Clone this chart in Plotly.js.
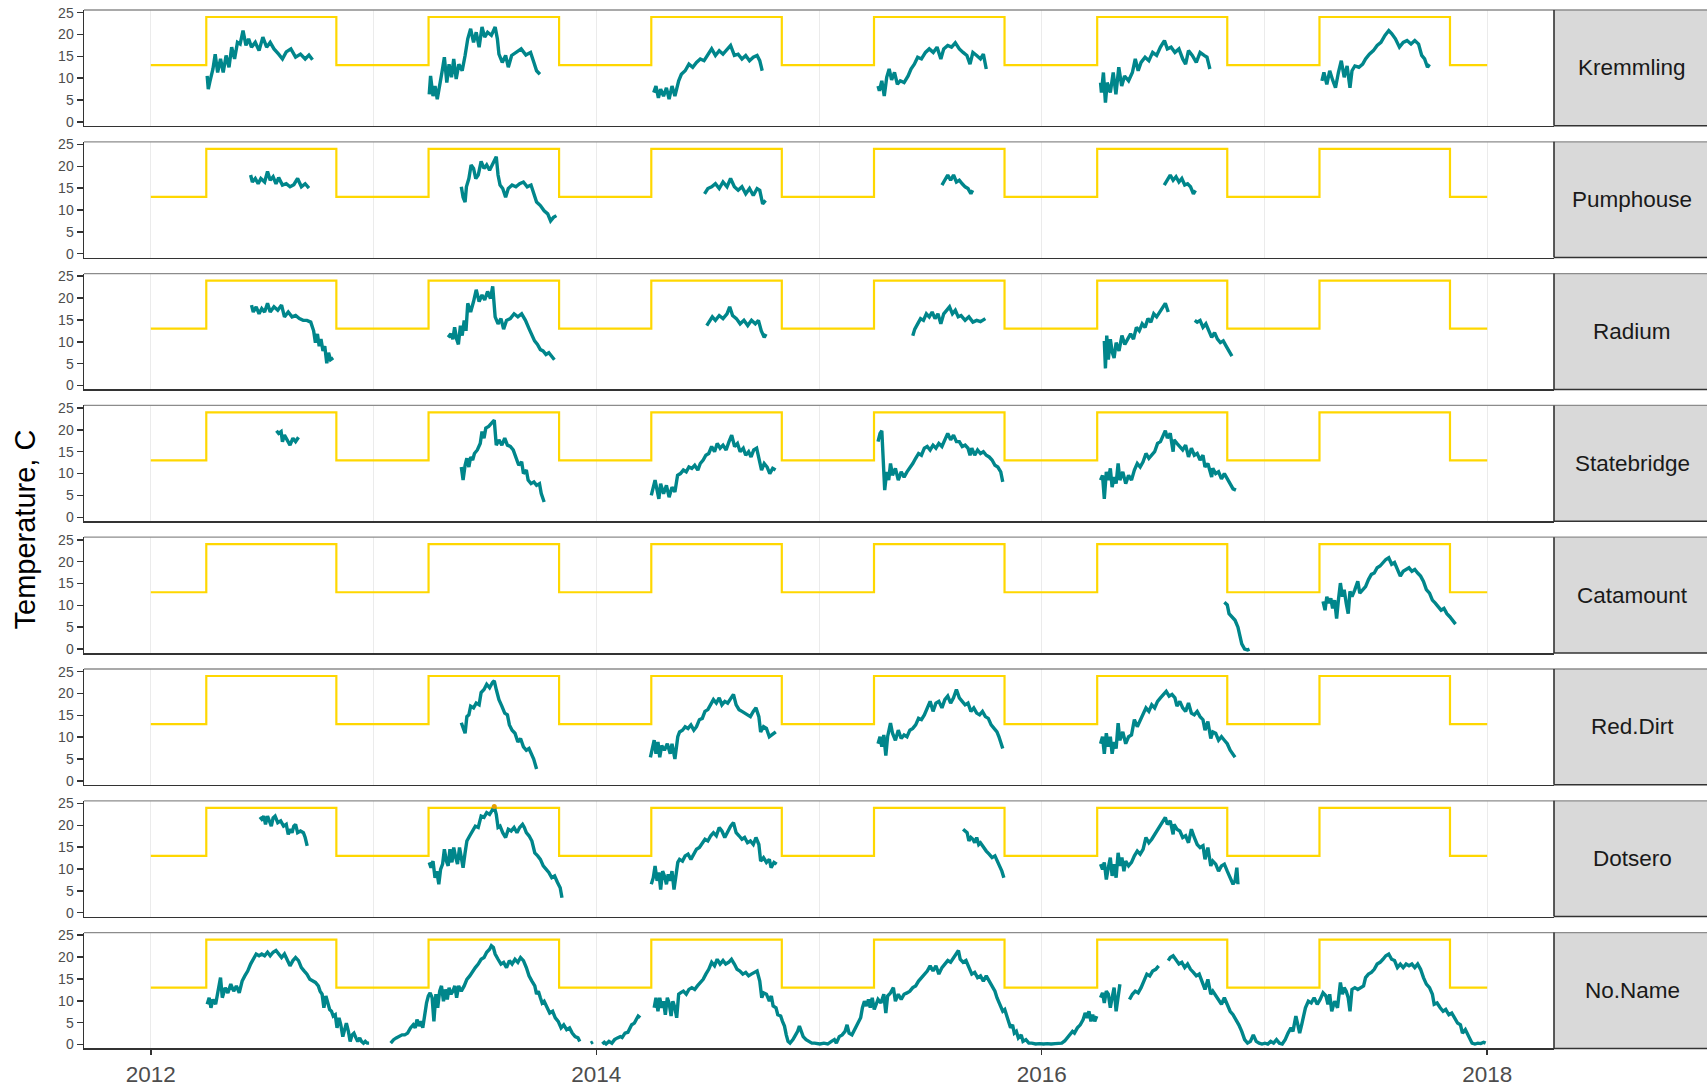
<!DOCTYPE html>
<html>
<head>
<meta charset="utf-8">
<script src="https://cdn.plot.ly/plotly-3.0.1.min.js"></script>
<style>html,body{margin:0;padding:0;background:#fff;}#chart{width:1707px;height:1088px;}</style>
</head>
<body>
<div id="chart"></div>
<script>
// ---------------- DATA ----------------
const stations = ["Kremmling","Pumphouse","Radium","Statebridge","Catamount","Red.Dirt","Dotsero","No.Name"];
const xTickVals = [2012, 2014, 2016, 2018];
const xTickText = ["2012", "2014", "2016", "2018"];
const yTickVals = [0, 5, 10, 15, 20, 25];

// temperature standard (step line): date (decimal year), value
const stdT = [2012.000,2012.249,2012.833,2013.247,2013.833,2014.247,2014.833,2015.247,2015.833,2016.249,2016.833,2017.247,2017.833,2018.000];
const stdV = [13,24,13,24,13,24,13,24,13,24,13,24,13,13];

// exceedance point
const exceedT = [2013.542];
const exceedV = [24.3];

// station temperature series: segments of [decimal year, temperature C]
const kremmling = [
 [[2012.253,10.5],[2012.258,7.5],[2012.266,9.4],[2012.279,12.1],[2012.289,15.5],[2012.300,11.3],[2012.313,14.4],[2012.325,11.3],[2012.338,15.2],[2012.351,12.5],[2012.363,17.1],[2012.376,14.4],[2012.389,18.2],[2012.401,17.8],[2012.414,20.9],[2012.427,17.5],[2012.439,19.0],[2012.452,17.1],[2012.469,18.2],[2012.486,16.3],[2012.503,19.4],[2012.520,17.1],[2012.536,18.2],[2012.553,16.7],[2012.574,15.5],[2012.591,14.4],[2012.608,16.0],[2012.629,16.7],[2012.650,14.8],[2012.672,15.5],[2012.693,14.4],[2012.710,15.3],[2012.726,14.2]],
 [[2013.250,6.3],[2013.256,10.5],[2013.267,5.9],[2013.276,8.2],[2013.286,5.2],[2013.297,9.0],[2013.307,11.3],[2013.318,14.8],[2013.329,9.0],[2013.339,13.2],[2013.350,10.2],[2013.360,14.4],[2013.371,9.8],[2013.383,13.2],[2013.398,11.7],[2013.411,15.2],[2013.423,19.0],[2013.436,21.3],[2013.449,18.2],[2013.461,20.5],[2013.474,17.1],[2013.487,21.7],[2013.499,19.4],[2013.512,20.5],[2013.529,19.8],[2013.546,21.7],[2013.556,19.0],[2013.563,15.5],[2013.578,13.6],[2013.593,15.2],[2013.605,12.5],[2013.620,15.2],[2013.641,15.9],[2013.663,16.7],[2013.684,15.3],[2013.705,15.9],[2013.720,13.6],[2013.732,11.7],[2013.747,10.9]],
 [[2014.258,6.7],[2014.268,8.2],[2014.279,5.5],[2014.289,7.5],[2014.302,5.9],[2014.315,7.8],[2014.327,5.2],[2014.340,8.2],[2014.353,5.9],[2014.370,9.4],[2014.382,10.9],[2014.399,11.7],[2014.416,13.2],[2014.433,12.5],[2014.450,13.6],[2014.467,14.4],[2014.484,14.0],[2014.501,15.5],[2014.518,16.7],[2014.535,15.2],[2014.552,16.3],[2014.569,15.5],[2014.587,16.7],[2014.603,17.5],[2014.620,15.2],[2014.637,15.5],[2014.654,14.4],[2014.671,15.2],[2014.688,14.0],[2014.705,14.8],[2014.722,15.2],[2014.734,14.0],[2014.745,11.7]],
 [[2015.265,8.2],[2015.271,7.1],[2015.282,9.4],[2015.293,5.9],[2015.304,10.2],[2015.315,12.1],[2015.326,9.6],[2015.339,11.3],[2015.352,8.6],[2015.365,9.4],[2015.382,9.0],[2015.400,10.5],[2015.413,12.1],[2015.428,13.2],[2015.443,14.8],[2015.460,14.4],[2015.478,15.9],[2015.495,16.7],[2015.513,15.9],[2015.530,17.1],[2015.547,14.4],[2015.560,16.7],[2015.578,17.5],[2015.595,17.1],[2015.612,18.1],[2015.630,16.7],[2015.647,15.9],[2015.664,15.2],[2015.678,13.2],[2015.691,15.9],[2015.708,15.2],[2015.725,14.4],[2015.738,15.5],[2015.751,12.1]],
 [[2016.264,9.0],[2016.268,6.7],[2016.277,11.3],[2016.286,4.4],[2016.294,9.0],[2016.308,6.7],[2016.321,11.3],[2016.333,6.3],[2016.346,12.5],[2016.359,8.2],[2016.372,10.5],[2016.390,9.4],[2016.407,11.3],[2016.420,14.4],[2016.433,11.7],[2016.446,13.6],[2016.464,14.8],[2016.481,14.0],[2016.498,15.9],[2016.516,15.2],[2016.533,17.1],[2016.551,18.6],[2016.564,16.7],[2016.581,17.1],[2016.598,15.9],[2016.616,16.7],[2016.633,14.4],[2016.646,13.2],[2016.659,16.3],[2016.676,15.2],[2016.694,13.6],[2016.711,15.9],[2016.729,15.2],[2016.742,14.8],[2016.755,12.1]],
 [[2017.258,9.4],[2017.267,11.3],[2017.280,8.6],[2017.293,11.7],[2017.306,9.6],[2017.319,7.8],[2017.332,11.3],[2017.345,14.0],[2017.358,10.2],[2017.371,12.8],[2017.384,7.8],[2017.393,11.7],[2017.406,12.8],[2017.424,12.5],[2017.441,13.2],[2017.454,14.4],[2017.471,15.5],[2017.489,16.3],[2017.506,17.5],[2017.523,18.2],[2017.541,19.8],[2017.558,20.9],[2017.571,20.2],[2017.588,19.0],[2017.606,17.1],[2017.623,18.2],[2017.640,18.6],[2017.658,17.8],[2017.675,18.6],[2017.692,17.8],[2017.706,15.2],[2017.719,14.4],[2017.732,12.5],[2017.741,13.2]]
];
const pumphouse = [
 [[2012.448,18.0],[2012.456,16.4],[2012.469,17.2],[2012.482,16.0],[2012.494,17.2],[2012.511,16.4],[2012.524,18.8],[2012.536,16.8],[2012.549,17.6],[2012.562,16.0],[2012.574,17.4],[2012.591,15.7],[2012.608,16.0],[2012.625,15.3],[2012.642,15.8],[2012.659,17.2],[2012.676,15.3],[2012.693,16.0],[2012.710,15.0]],
 [[2013.394,15.3],[2013.402,12.9],[2013.411,11.8],[2013.417,15.3],[2013.428,17.2],[2013.438,20.3],[2013.449,19.5],[2013.459,17.2],[2013.470,18.0],[2013.483,21.1],[2013.496,19.5],[2013.508,20.3],[2013.521,19.1],[2013.538,21.1],[2013.551,22.2],[2013.559,18.0],[2013.568,15.7],[2013.580,14.9],[2013.593,12.9],[2013.605,14.9],[2013.622,15.7],[2013.639,15.3],[2013.656,16.0],[2013.673,16.4],[2013.690,15.3],[2013.707,15.7],[2013.719,13.7],[2013.732,11.8],[2013.749,11.0],[2013.766,9.8],[2013.782,9.1],[2013.795,7.5],[2013.808,8.3],[2013.821,8.7]],
 [[2014.486,13.7],[2014.501,14.9],[2014.518,15.3],[2014.535,16.0],[2014.552,14.9],[2014.569,16.4],[2014.587,15.3],[2014.603,17.2],[2014.620,15.3],[2014.637,14.5],[2014.654,15.3],[2014.671,13.7],[2014.688,14.9],[2014.705,13.3],[2014.722,14.9],[2014.734,14.5],[2014.747,11.4],[2014.760,12.2]],
 [[2015.552,15.7],[2015.565,16.8],[2015.578,18.0],[2015.591,16.8],[2015.604,18.0],[2015.617,16.4],[2015.630,16.8],[2015.643,16.0],[2015.656,15.3],[2015.669,14.9],[2015.682,13.7],[2015.690,14.5]],
 [[2016.550,15.7],[2016.564,16.8],[2016.577,18.0],[2016.590,16.8],[2016.603,17.6],[2016.616,16.4],[2016.629,17.2],[2016.642,15.7],[2016.655,16.0],[2016.668,15.3],[2016.681,13.7],[2016.690,14.5]]
];
const radium = [
 [[2012.452,18.4],[2012.460,16.8],[2012.473,18.0],[2012.486,16.4],[2012.498,17.6],[2012.511,16.8],[2012.524,18.8],[2012.536,16.8],[2012.553,18.0],[2012.570,17.2],[2012.587,18.4],[2012.600,15.7],[2012.617,16.8],[2012.634,15.7],[2012.650,16.0],[2012.667,15.3],[2012.684,14.9],[2012.701,14.9],[2012.718,14.5],[2012.731,12.5],[2012.739,9.8],[2012.748,11.8],[2012.756,9.0],[2012.764,10.6],[2012.773,7.9],[2012.781,9.0],[2012.790,5.1],[2012.798,7.5],[2012.807,5.9],[2012.819,6.3]],
 [[2013.335,11.0],[2013.347,11.8],[2013.356,10.6],[2013.364,13.3],[2013.373,10.6],[2013.381,9.4],[2013.390,13.7],[2013.398,11.4],[2013.407,14.9],[2013.415,12.5],[2013.423,18.8],[2013.436,16.8],[2013.449,19.2],[2013.461,21.9],[2013.474,19.2],[2013.487,20.7],[2013.499,19.6],[2013.512,21.5],[2013.525,19.9],[2013.535,22.7],[2013.546,15.7],[2013.559,14.1],[2013.572,15.3],[2013.584,12.9],[2013.597,14.9],[2013.614,15.3],[2013.631,16.4],[2013.648,15.7],[2013.665,16.4],[2013.682,14.9],[2013.699,12.9],[2013.711,11.4],[2013.723,10.2],[2013.736,9.4],[2013.749,8.2],[2013.761,7.9],[2013.774,7.1],[2013.787,7.5],[2013.800,6.7],[2013.812,5.9]],
 [[2014.496,13.7],[2014.509,14.9],[2014.521,15.7],[2014.535,14.9],[2014.552,16.0],[2014.569,15.3],[2014.587,16.4],[2014.599,18.0],[2014.612,16.0],[2014.629,15.3],[2014.646,14.1],[2014.663,14.9],[2014.680,13.7],[2014.697,14.9],[2014.714,14.1],[2014.728,14.9],[2014.741,12.5],[2014.754,11.0],[2014.762,11.8]],
 [[2015.421,11.4],[2015.430,12.9],[2015.443,14.1],[2015.456,15.3],[2015.469,14.9],[2015.482,16.4],[2015.495,15.7],[2015.508,16.8],[2015.521,15.3],[2015.534,16.4],[2015.547,14.1],[2015.560,16.4],[2015.573,17.2],[2015.586,18.0],[2015.599,16.4],[2015.612,17.2],[2015.625,15.7],[2015.638,16.0],[2015.656,14.9],[2015.673,15.7],[2015.691,14.5],[2015.708,14.9],[2015.725,14.6],[2015.747,15.3]],
 [[2016.281,10.2],[2016.286,3.9],[2016.292,11.4],[2016.299,5.9],[2016.308,10.6],[2016.317,7.5],[2016.325,6.3],[2016.334,9.8],[2016.347,7.9],[2016.360,11.4],[2016.373,9.4],[2016.386,10.6],[2016.399,11.8],[2016.412,10.6],[2016.425,13.3],[2016.438,12.5],[2016.451,14.1],[2016.464,13.3],[2016.477,15.3],[2016.490,14.5],[2016.503,16.4],[2016.516,15.7],[2016.529,16.8],[2016.542,17.6],[2016.555,18.8],[2016.568,16.8]],
 [[2016.687,14.9],[2016.698,14.5],[2016.711,14.9],[2016.724,13.3],[2016.737,14.1],[2016.750,12.5],[2016.763,11.0],[2016.776,12.1],[2016.789,10.6],[2016.802,9.8],[2016.815,10.2],[2016.828,9.0],[2016.841,7.9],[2016.854,6.7]]
];
const statebridge = [
 [[2012.564,19.8],[2012.574,19.2],[2012.585,19.6],[2012.591,17.3],[2012.600,18.8],[2012.613,17.7],[2012.625,16.5],[2012.638,18.1],[2012.650,17.3],[2012.663,18.3]],
 [[2013.394,11.5],[2013.402,8.5],[2013.411,11.9],[2013.419,13.5],[2013.428,11.5],[2013.436,13.8],[2013.445,13.1],[2013.453,14.6],[2013.466,15.4],[2013.479,16.9],[2013.487,19.6],[2013.496,18.1],[2013.504,20.4],[2013.517,20.8],[2013.529,21.5],[2013.542,22.2],[2013.551,16.5],[2013.563,17.7],[2013.576,16.5],[2013.589,18.1],[2013.601,16.5],[2013.614,16.2],[2013.627,15.4],[2013.639,13.5],[2013.652,11.9],[2013.665,12.7],[2013.673,10.0],[2013.686,10.8],[2013.694,8.5],[2013.707,7.7],[2013.720,8.1],[2013.732,7.3],[2013.745,7.7],[2013.753,5.4],[2013.766,3.5]],
 [[2014.247,5.0],[2014.256,7.3],[2014.264,8.5],[2014.273,6.2],[2014.281,4.2],[2014.289,7.7],[2014.302,5.4],[2014.315,7.3],[2014.327,4.6],[2014.340,6.9],[2014.353,5.8],[2014.365,9.6],[2014.378,10.0],[2014.391,10.8],[2014.404,10.4],[2014.416,11.5],[2014.429,11.2],[2014.442,11.9],[2014.456,10.8],[2014.467,12.3],[2014.480,13.1],[2014.492,14.2],[2014.505,14.6],[2014.518,16.2],[2014.531,15.0],[2014.543,16.9],[2014.556,15.8],[2014.569,16.5],[2014.583,15.4],[2014.596,17.3],[2014.608,18.8],[2014.621,16.2],[2014.634,16.9],[2014.646,15.0],[2014.660,15.8],[2014.671,14.2],[2014.684,15.0],[2014.695,13.8],[2014.707,15.4],[2014.720,15.8],[2014.730,13.5],[2014.742,10.8],[2014.754,12.3],[2014.767,11.5],[2014.779,10.0],[2014.792,11.2],[2014.805,10.8]],
 [[2015.265,17.3],[2015.274,19.2],[2015.282,19.8],[2015.289,11.5],[2015.295,6.2],[2015.304,10.4],[2015.313,8.5],[2015.321,12.3],[2015.330,9.6],[2015.343,11.2],[2015.356,8.5],[2015.369,10.4],[2015.382,9.2],[2015.395,10.4],[2015.408,11.2],[2015.421,12.3],[2015.434,13.5],[2015.447,14.6],[2015.460,14.2],[2015.473,15.8],[2015.486,16.2],[2015.499,15.4],[2015.512,16.5],[2015.525,15.8],[2015.538,16.9],[2015.552,16.2],[2015.565,17.7],[2015.578,19.2],[2015.591,17.7],[2015.604,18.8],[2015.617,17.3],[2015.630,17.3],[2015.643,16.2],[2015.656,16.5],[2015.669,15.8],[2015.678,14.2],[2015.686,15.8],[2015.699,14.2],[2015.712,15.4],[2015.725,14.6],[2015.738,15.0],[2015.751,14.2],[2015.764,13.8],[2015.777,13.1],[2015.790,11.9],[2015.803,11.5],[2015.816,10.4],[2015.825,8.1]],
 [[2016.264,8.5],[2016.273,9.6],[2016.281,4.2],[2016.290,10.4],[2016.299,8.5],[2016.308,11.2],[2016.316,6.9],[2016.325,9.2],[2016.334,7.7],[2016.343,12.3],[2016.351,8.5],[2016.364,10.4],[2016.377,7.7],[2016.390,9.6],[2016.403,8.5],[2016.416,10.8],[2016.429,12.3],[2016.442,11.5],[2016.455,12.7],[2016.468,14.6],[2016.481,13.5],[2016.494,14.2],[2016.507,15.0],[2016.520,16.9],[2016.533,17.3],[2016.546,18.8],[2016.555,19.8],[2016.564,18.1],[2016.577,19.2],[2016.590,15.0],[2016.594,17.7],[2016.607,16.9],[2016.620,16.2],[2016.633,15.4],[2016.646,16.5],[2016.659,13.8],[2016.672,15.8],[2016.685,14.2],[2016.698,14.6],[2016.711,13.1],[2016.724,14.2],[2016.733,11.5],[2016.746,12.3],[2016.763,9.2],[2016.768,11.2],[2016.781,10.0],[2016.794,10.4],[2016.807,8.8],[2016.820,10.0],[2016.833,8.8],[2016.846,7.3],[2016.859,6.5],[2016.872,6.2]]
];
const catamount = [
 [[2016.820,10.7],[2016.833,10.1],[2016.841,8.1],[2016.855,7.4],[2016.868,6.6],[2016.881,5.0],[2016.889,3.5],[2016.898,1.2],[2016.911,0.0],[2016.924,-0.2],[2016.933,0.0]],
 [[2017.263,10.9],[2017.272,8.9],[2017.280,12.0],[2017.289,10.5],[2017.298,11.6],[2017.306,9.3],[2017.315,11.2],[2017.324,7.0],[2017.332,11.2],[2017.341,15.1],[2017.350,12.0],[2017.358,13.6],[2017.367,10.5],[2017.376,8.1],[2017.384,13.2],[2017.393,12.0],[2017.406,13.6],[2017.419,15.5],[2017.428,12.8],[2017.441,13.6],[2017.454,14.3],[2017.467,15.9],[2017.480,17.1],[2017.493,17.4],[2017.506,18.6],[2017.519,19.0],[2017.532,19.8],[2017.545,20.5],[2017.558,20.9],[2017.571,19.4],[2017.584,19.8],[2017.597,18.2],[2017.610,16.7],[2017.623,17.8],[2017.636,18.2],[2017.649,18.6],[2017.662,17.8],[2017.675,18.2],[2017.688,17.4],[2017.701,16.7],[2017.714,15.5],[2017.727,13.6],[2017.741,12.8],[2017.754,11.2],[2017.767,10.5],[2017.780,9.7],[2017.793,8.9],[2017.806,9.3],[2017.819,8.1],[2017.832,7.4],[2017.845,6.6],[2017.858,5.7]]
];
const redDirt = [
 [[2013.394,13.3],[2013.402,12.0],[2013.411,10.9],[2013.419,14.7],[2013.428,15.1],[2013.436,17.1],[2013.449,16.7],[2013.461,17.8],[2013.474,17.4],[2013.483,20.2],[2013.496,20.9],[2013.508,22.1],[2013.521,21.3],[2013.534,22.5],[2013.542,22.9],[2013.551,20.9],[2013.563,18.6],[2013.576,17.1],[2013.589,15.5],[2013.601,15.1],[2013.610,12.8],[2013.622,11.6],[2013.635,10.9],[2013.648,8.9],[2013.660,9.7],[2013.673,7.8],[2013.686,7.0],[2013.698,7.4],[2013.707,6.2],[2013.719,5.0],[2013.732,2.7]],
 [[2014.243,5.4],[2014.251,7.0],[2014.260,9.3],[2014.268,6.2],[2014.277,8.9],[2014.285,5.4],[2014.294,8.1],[2014.306,7.0],[2014.319,8.5],[2014.332,6.2],[2014.340,8.5],[2014.353,5.0],[2014.366,10.1],[2014.374,11.2],[2014.387,11.6],[2014.399,12.4],[2014.412,12.0],[2014.425,12.8],[2014.438,11.6],[2014.450,12.4],[2014.463,14.0],[2014.476,14.3],[2014.488,15.9],[2014.501,16.3],[2014.514,17.4],[2014.526,18.6],[2014.539,17.8],[2014.552,19.0],[2014.564,17.4],[2014.577,18.2],[2014.590,17.8],[2014.603,19.0],[2014.616,19.8],[2014.628,17.4],[2014.641,16.3],[2014.654,15.9],[2014.666,15.5],[2014.679,15.1],[2014.692,14.7],[2014.705,15.9],[2014.717,16.7],[2014.730,14.7],[2014.738,11.2],[2014.751,12.4],[2014.764,12.0],[2014.777,10.1],[2014.790,10.5],[2014.806,11.2]],
 [[2015.265,8.5],[2015.274,10.1],[2015.282,7.8],[2015.291,10.5],[2015.300,5.8],[2015.308,10.1],[2015.321,13.2],[2015.330,10.9],[2015.343,9.3],[2015.356,11.6],[2015.369,9.7],[2015.382,10.5],[2015.395,10.1],[2015.408,11.6],[2015.421,12.0],[2015.434,12.8],[2015.447,14.3],[2015.460,14.0],[2015.473,15.1],[2015.486,16.7],[2015.499,18.2],[2015.512,15.9],[2015.525,17.8],[2015.538,18.2],[2015.552,16.7],[2015.565,18.6],[2015.578,19.4],[2015.591,17.8],[2015.604,19.0],[2015.617,20.9],[2015.630,19.0],[2015.643,18.2],[2015.656,17.4],[2015.669,17.8],[2015.682,15.9],[2015.695,16.7],[2015.708,15.5],[2015.721,15.1],[2015.734,15.9],[2015.747,14.7],[2015.760,14.3],[2015.773,12.8],[2015.786,12.0],[2015.799,11.2],[2015.808,10.1],[2015.816,8.9],[2015.825,7.4]],
 [[2016.264,8.5],[2016.273,10.1],[2016.281,6.2],[2016.290,10.9],[2016.299,7.8],[2016.308,10.1],[2016.316,6.2],[2016.325,8.9],[2016.334,7.4],[2016.343,13.2],[2016.351,9.3],[2016.364,11.2],[2016.377,8.5],[2016.390,10.1],[2016.403,10.5],[2016.416,14.0],[2016.429,12.4],[2016.442,14.0],[2016.455,15.1],[2016.468,16.7],[2016.481,15.9],[2016.494,17.4],[2016.507,16.7],[2016.520,18.2],[2016.533,19.0],[2016.546,19.8],[2016.559,20.5],[2016.572,19.4],[2016.585,19.8],[2016.598,19.0],[2016.607,17.1],[2016.620,18.2],[2016.633,16.7],[2016.646,15.9],[2016.659,17.8],[2016.672,15.5],[2016.685,15.1],[2016.698,15.9],[2016.711,14.7],[2016.724,14.0],[2016.733,11.6],[2016.746,13.6],[2016.759,9.7],[2016.768,11.2],[2016.781,10.9],[2016.794,9.3],[2016.807,10.1],[2016.820,9.3],[2016.833,8.5],[2016.846,7.0],[2016.859,6.2],[2016.868,5.4]]
];
const dotsero = [
 [[2012.490,21.9],[2012.498,21.4],[2012.507,22.1],[2012.515,20.2],[2012.524,22.1],[2012.532,21.0],[2012.541,19.8],[2012.549,21.7],[2012.558,22.1],[2012.570,20.6],[2012.583,21.0],[2012.596,19.8],[2012.608,20.2],[2012.617,17.9],[2012.625,19.1],[2012.634,18.3],[2012.642,19.8],[2012.650,20.2],[2012.659,18.3],[2012.672,18.7],[2012.685,18.3],[2012.693,17.2],[2012.702,15.3]],
 [[2013.250,11.5],[2013.258,10.3],[2013.267,11.8],[2013.276,8.0],[2013.284,9.5],[2013.293,6.5],[2013.301,9.9],[2013.310,11.1],[2013.318,14.5],[2013.327,11.8],[2013.335,10.7],[2013.343,14.5],[2013.352,11.5],[2013.360,14.9],[2013.369,12.6],[2013.377,11.1],[2013.386,14.9],[2013.394,13.0],[2013.402,10.3],[2013.411,13.7],[2013.419,16.4],[2013.432,17.6],[2013.445,18.7],[2013.457,19.8],[2013.470,19.5],[2013.483,22.1],[2013.496,21.8],[2013.508,22.9],[2013.521,22.5],[2013.533,23.7],[2013.542,24.2],[2013.551,22.5],[2013.559,19.5],[2013.568,19.8],[2013.580,18.3],[2013.593,17.2],[2013.605,19.1],[2013.618,18.7],[2013.631,19.5],[2013.644,18.3],[2013.656,19.5],[2013.669,20.2],[2013.677,19.5],[2013.686,18.3],[2013.698,17.6],[2013.711,16.4],[2013.724,13.7],[2013.737,13.0],[2013.749,12.2],[2013.762,10.7],[2013.775,9.9],[2013.787,9.2],[2013.800,8.0],[2013.813,8.4],[2013.826,6.9],[2013.838,5.7],[2013.846,3.4]],
 [[2014.247,6.5],[2014.256,8.0],[2014.264,10.7],[2014.273,7.3],[2014.281,9.2],[2014.289,5.3],[2014.298,9.5],[2014.306,8.4],[2014.315,6.5],[2014.323,8.8],[2014.332,7.3],[2014.340,9.5],[2014.349,5.3],[2014.357,8.8],[2014.366,11.5],[2014.374,12.2],[2014.387,11.8],[2014.399,13.0],[2014.412,13.4],[2014.425,12.2],[2014.438,13.4],[2014.450,14.5],[2014.463,14.9],[2014.476,16.0],[2014.488,16.8],[2014.501,16.4],[2014.514,17.6],[2014.526,18.3],[2014.539,17.6],[2014.552,19.5],[2014.564,18.7],[2014.577,17.2],[2014.590,18.7],[2014.603,19.8],[2014.616,20.6],[2014.628,18.3],[2014.641,17.6],[2014.654,16.8],[2014.666,17.2],[2014.679,16.0],[2014.692,16.4],[2014.705,15.6],[2014.717,17.2],[2014.730,15.6],[2014.738,11.8],[2014.751,12.6],[2014.764,11.5],[2014.777,12.2],[2014.785,10.3],[2014.798,11.5],[2014.810,11.1]],
 [[2015.647,19.1],[2015.656,18.7],[2015.665,18.3],[2015.673,16.4],[2015.682,17.2],[2015.691,16.8],[2015.699,16.0],[2015.708,17.2],[2015.717,15.6],[2015.725,16.0],[2015.738,14.9],[2015.751,14.1],[2015.764,13.4],[2015.777,12.6],[2015.790,13.0],[2015.803,11.5],[2015.812,10.7],[2015.821,9.5],[2015.830,8.0]],
 [[2016.264,11.1],[2016.273,9.9],[2016.281,11.5],[2016.290,7.6],[2016.299,10.3],[2016.308,12.6],[2016.316,8.4],[2016.325,11.1],[2016.334,8.0],[2016.343,13.7],[2016.351,10.7],[2016.360,12.6],[2016.369,9.5],[2016.377,11.8],[2016.390,10.7],[2016.403,11.5],[2016.416,13.0],[2016.429,14.1],[2016.442,13.4],[2016.455,14.5],[2016.468,17.2],[2016.481,16.0],[2016.494,16.8],[2016.507,17.9],[2016.520,18.7],[2016.533,19.8],[2016.546,21.0],[2016.555,21.8],[2016.564,20.2],[2016.577,21.0],[2016.590,17.9],[2016.594,20.2],[2016.607,19.1],[2016.620,18.7],[2016.633,17.2],[2016.646,17.6],[2016.659,16.0],[2016.672,19.1],[2016.685,17.2],[2016.698,15.6],[2016.711,14.9],[2016.724,15.3],[2016.733,12.2],[2016.746,14.9],[2016.759,10.7],[2016.768,11.8],[2016.781,11.1],[2016.794,9.5],[2016.807,10.7],[2016.820,11.1],[2016.833,9.5],[2016.846,8.0],[2016.859,6.5],[2016.868,7.3],[2016.876,10.3],[2016.881,6.5]]
];
const noName = [
 [[2012.253,9.2],[2012.262,10.7],[2012.270,8.4],[2012.279,10.3],[2012.291,9.2],[2012.304,13.0],[2012.313,15.3],[2012.321,10.7],[2012.334,13.0],[2012.346,11.8],[2012.359,13.8],[2012.372,12.2],[2012.384,13.4],[2012.397,11.8],[2012.410,14.5],[2012.422,15.7],[2012.435,16.8],[2012.448,18.4],[2012.460,19.5],[2012.473,20.7],[2012.486,20.3],[2012.498,20.7],[2012.511,20.3],[2012.524,21.1],[2012.536,20.3],[2012.549,21.1],[2012.562,21.5],[2012.574,20.7],[2012.587,19.9],[2012.600,20.7],[2012.612,19.2],[2012.625,18.0],[2012.638,19.2],[2012.650,19.9],[2012.663,19.2],[2012.676,17.6],[2012.689,16.8],[2012.701,16.1],[2012.714,14.9],[2012.727,14.5],[2012.739,14.2],[2012.752,13.4],[2012.760,12.2],[2012.769,11.5],[2012.777,8.4],[2012.786,11.1],[2012.794,9.9],[2012.803,8.0],[2012.811,7.6],[2012.819,6.5],[2012.828,6.8],[2012.836,3.8],[2012.845,6.1],[2012.853,4.5],[2012.862,1.8],[2012.870,3.4],[2012.878,4.9],[2012.887,3.0],[2012.895,0.7],[2012.904,2.2],[2012.912,2.6],[2012.921,1.5],[2012.929,0.7],[2012.938,1.5],[2012.946,0.7],[2012.955,0.3],[2012.963,0.7],[2012.972,0.3],[2012.980,0.3]],
 [[2013.077,0.3],[2013.090,1.1],[2013.102,1.5],[2013.115,1.8],[2013.128,2.2],[2013.140,2.2],[2013.153,2.6],[2013.166,3.8],[2013.178,4.5],[2013.187,3.8],[2013.195,5.7],[2013.204,4.2],[2013.212,5.3],[2013.221,3.8],[2013.229,6.8],[2013.238,9.5],[2013.246,11.1],[2013.254,11.8],[2013.263,10.7],[2013.271,5.3],[2013.280,11.5],[2013.288,8.4],[2013.297,12.2],[2013.305,13.4],[2013.314,9.9],[2013.322,12.6],[2013.331,10.3],[2013.339,13.0],[2013.348,11.5],[2013.356,12.2],[2013.365,13.4],[2013.373,10.7],[2013.382,13.4],[2013.394,12.2],[2013.407,13.4],[2013.419,14.9],[2013.432,15.7],[2013.445,16.8],[2013.457,17.6],[2013.470,18.4],[2013.483,19.5],[2013.496,19.9],[2013.508,21.1],[2013.521,21.8],[2013.529,22.6],[2013.538,22.2],[2013.546,20.7],[2013.559,19.5],[2013.572,18.4],[2013.584,18.8],[2013.597,17.6],[2013.610,19.2],[2013.622,18.4],[2013.635,19.5],[2013.648,18.8],[2013.660,19.9],[2013.673,19.2],[2013.686,17.6],[2013.698,15.7],[2013.711,14.5],[2013.724,13.4],[2013.732,11.5],[2013.740,12.2],[2013.749,10.7],[2013.757,9.5],[2013.766,9.9],[2013.778,8.4],[2013.791,7.2],[2013.804,7.6],[2013.816,6.1],[2013.829,5.3],[2013.842,3.8],[2013.854,4.5],[2013.867,3.4],[2013.880,3.8],[2013.892,2.6],[2013.905,1.8],[2013.918,1.5],[2013.926,0.7]],
 [[2013.975,0.3],[2013.985,0.6]],
 [[2014.027,0.1],[2014.036,0.5],[2014.044,0.1],[2014.057,0.7],[2014.070,0.3],[2014.082,1.1],[2014.095,1.5],[2014.108,1.8],[2014.116,1.6],[2014.129,2.6],[2014.142,2.8],[2014.150,3.8],[2014.159,4.5],[2014.171,4.9],[2014.180,5.7],[2014.188,6.5],[2014.197,6.1]],
 [[2014.260,8.4],[2014.268,10.7],[2014.277,7.6],[2014.285,10.7],[2014.294,8.4],[2014.302,9.9],[2014.310,6.8],[2014.319,10.7],[2014.327,9.5],[2014.336,6.5],[2014.344,9.9],[2014.353,8.4],[2014.361,6.1],[2014.370,11.5],[2014.378,11.8],[2014.391,12.2],[2014.404,11.5],[2014.416,12.6],[2014.429,13.0],[2014.442,12.6],[2014.454,13.4],[2014.467,14.2],[2014.480,14.9],[2014.492,16.1],[2014.505,17.2],[2014.518,18.8],[2014.531,18.0],[2014.543,19.5],[2014.556,18.4],[2014.569,19.2],[2014.581,18.4],[2014.594,18.8],[2014.607,19.5],[2014.620,18.4],[2014.632,17.2],[2014.645,16.8],[2014.658,16.1],[2014.671,16.5],[2014.684,15.7],[2014.696,16.1],[2014.709,16.5],[2014.722,16.8],[2014.734,14.5],[2014.743,10.7],[2014.751,11.8],[2014.764,11.5],[2014.777,9.9],[2014.786,11.1],[2014.794,8.8],[2014.807,8.4],[2014.815,6.8],[2014.828,6.5],[2014.836,5.3],[2014.845,4.2],[2014.853,2.2],[2014.861,0.7],[2014.870,0.3],[2014.883,1.1],[2014.895,2.2],[2014.904,3.0],[2014.912,4.2],[2014.921,3.0],[2014.929,1.8],[2014.942,1.1],[2014.955,0.7],[2014.968,0.3],[2014.980,0.3],[2014.993,0.1],
  [2015.004,0.1],[2015.022,0.3],[2015.039,0.1],[2015.056,0.7],[2015.069,1.1],[2015.078,0.3],[2015.091,1.8],[2015.104,2.2],[2015.117,3.0],[2015.126,4.5],[2015.135,2.6],[2015.148,2.2],[2015.161,3.4],[2015.174,4.5],[2015.187,6.1],[2015.195,8.4],[2015.204,9.9],[2015.213,8.8],[2015.222,10.3],[2015.230,8.4],[2015.239,10.7],[2015.248,8.0],[2015.256,9.2],[2015.265,10.3],[2015.278,9.5],[2015.291,11.5],[2015.300,7.2],[2015.308,11.1],[2015.321,11.8],[2015.334,13.0],[2015.343,9.9],[2015.356,11.5],[2015.369,10.3],[2015.382,11.5],[2015.395,11.8],[2015.408,12.2],[2015.421,13.0],[2015.434,13.4],[2015.447,14.5],[2015.460,15.3],[2015.473,16.1],[2015.486,16.8],[2015.499,18.0],[2015.512,16.8],[2015.525,18.0],[2015.538,16.1],[2015.552,17.6],[2015.565,18.4],[2015.578,19.2],[2015.591,18.8],[2015.604,19.9],[2015.617,20.7],[2015.626,21.5],[2015.634,19.5],[2015.647,18.8],[2015.660,19.2],[2015.673,17.6],[2015.686,16.1],[2015.699,16.5],[2015.712,15.3],[2015.725,15.7],[2015.738,14.5],[2015.751,15.7],[2015.764,14.5],[2015.777,13.4],[2015.790,12.2],[2015.799,10.7],[2015.808,9.5],[2015.816,8.8],[2015.825,7.6],[2015.834,8.0],[2015.843,6.5],[2015.851,5.3],[2015.860,3.8],[2015.869,4.5],[2015.877,2.6],[2015.886,3.0],[2015.895,1.5],[2015.908,2.2],[2015.916,0.7],[2015.929,1.1],[2015.942,0.3],[2015.955,0.3],[2015.973,0.1],[2015.990,0.2],[2016.008,0.1],[2016.025,0.2],[2016.042,0.1],[2016.060,0.2],[2016.077,0.3],[2016.090,0.3],[2016.103,0.8],[2016.116,1.6],[2016.129,2.6],[2016.138,3.0],[2016.147,2.6],[2016.160,3.8],[2016.173,4.5],[2016.186,5.7],[2016.195,7.2],[2016.204,6.1],[2016.212,7.6],[2016.221,5.3],[2016.229,6.8],[2016.238,5.3],[2016.247,6.5]],
 [[2016.264,10.7],[2016.273,11.8],[2016.281,9.5],[2016.290,12.2],[2016.299,11.5],[2016.308,8.4],[2016.316,10.7],[2016.325,13.0],[2016.334,7.6],[2016.343,11.5],[2016.351,13.8]],
 [[2016.394,10.3],[2016.407,11.5],[2016.420,12.2],[2016.433,11.8],[2016.446,13.0],[2016.459,14.5],[2016.472,16.1],[2016.485,15.7],[2016.498,16.8],[2016.512,17.2],[2016.525,18.0]],
 [[2016.568,19.2],[2016.577,19.9],[2016.590,20.3],[2016.603,19.2],[2016.616,18.4],[2016.629,18.8],[2016.642,17.6],[2016.655,18.4],[2016.668,17.2],[2016.681,16.5],[2016.694,15.7],[2016.707,16.1],[2016.720,14.5],[2016.733,12.6],[2016.746,14.9],[2016.759,11.5],[2016.768,12.2],[2016.781,11.1],[2016.794,10.3],[2016.807,9.2],[2016.820,10.7],[2016.833,9.2],[2016.846,7.6],[2016.859,6.8],[2016.872,5.7],[2016.885,4.5],[2016.898,3.0],[2016.911,1.1],[2016.924,0.3],[2016.937,0.7],[2016.950,2.2],[2016.963,0.7],[2016.976,0.3],[2016.989,0.1],[2017.002,0.3],[2017.015,0.1],[2017.028,0.7],[2017.041,0.3],[2017.054,1.1],[2017.067,0.3],[2017.080,0.1],[2017.093,1.1],[2017.106,2.6],[2017.119,3.8],[2017.128,3.0],[2017.141,6.5],[2017.150,4.5],[2017.158,2.6],[2017.167,4.5],[2017.176,6.8],[2017.184,8.4],[2017.197,9.9],[2017.210,9.5],[2017.223,10.7],[2017.237,9.2],[2017.250,10.3],[2017.263,11.8],[2017.276,11.1],[2017.285,9.2],[2017.293,11.5],[2017.302,7.6],[2017.315,9.9],[2017.328,8.4],[2017.341,14.2],[2017.350,11.5],[2017.358,13.0],[2017.367,12.2],[2017.376,10.7],[2017.384,7.6],[2017.393,12.6],[2017.406,13.0],[2017.419,12.6],[2017.432,13.0],[2017.445,13.4],[2017.454,15.3],[2017.467,16.1],[2017.480,16.5],[2017.493,17.2],[2017.506,18.4],[2017.519,18.8],[2017.532,19.5],[2017.545,20.3],[2017.558,20.7],[2017.571,19.5],[2017.584,19.2],[2017.597,17.6],[2017.610,18.4],[2017.623,17.6],[2017.636,18.4],[2017.649,18.0],[2017.662,18.4],[2017.675,17.6],[2017.688,18.4],[2017.701,17.2],[2017.714,15.3],[2017.727,13.8],[2017.741,13.0],[2017.754,11.5],[2017.762,9.2],[2017.775,9.5],[2017.789,8.4],[2017.802,7.6],[2017.814,8.0],[2017.828,6.8],[2017.841,7.2],[2017.854,6.1],[2017.867,4.9],[2017.880,4.5],[2017.889,2.6],[2017.902,3.4],[2017.915,2.2],[2017.923,1.5],[2017.932,0.3],[2017.945,0.1],[2017.958,0.3],[2017.971,0.2],[2017.984,0.5],[2017.993,0.3]]
];
const series = [kremmling, pumphouse, radium, statebridge, catamount, redDirt, dotsero, noName];
const exceedStation = 6; // Dotsero

// ---------------- STYLE / LAYOUT ----------------
const W = 1707, H = 1088;
const mL = 84, mR = 153, mT = 10, mB = 39;
const plotH = H - mT - mB;
const plotW = W - mL - mR;
const panelStep = 131.8, panelH = 115.8;
const teal = '#00868B', gold = '#FFD700';
const fontFam = '"Liberation Sans", Arial, Helvetica, sans-serif';

function flatten(segs) {
  const x = [], y = [];
  segs.forEach((s, k) => {
    if (k > 0) { x.push(null); y.push(null); }
    s.forEach(p => { x.push(p[0]); y.push(p[1]); });
  });
  return {x, y};
}

const traces = [];
const layout = {
  width: W, height: H,
  margin: {l: mL, r: mR, t: mT, b: mB, pad: 0},
  paper_bgcolor: '#ffffff', plot_bgcolor: '#ffffff',
  showlegend: false,
  font: {family: fontFam, color: '#4D4D4D'},
  shapes: [], annotations: []
};

stations.forEach((name, i) => {
  const ax = i + 1;
  const topPx = mT + i * panelStep;
  const botPx = topPx + panelH;
  const dTop = 1 - (topPx - mT) / plotH;
  const dBot = 1 - (botPx - mT) / plotH;
  const xa = 'x' + (ax === 1 ? '' : ax), ya = 'y' + (ax === 1 ? '' : ax);
  const isBottom = i === stations.length - 1;

  layout['xaxis' + (ax === 1 ? '' : ax)] = {
    domain: [0, 1], anchor: ya, range: [2011.7, 2018.3],
    tickmode: 'array', tickvals: xTickVals, ticktext: xTickText,
    showticklabels: isBottom, ticks: isBottom ? 'outside' : '',
    ticklen: 5, tickwidth: 1.5, tickcolor: '#333333',
    tickfont: {size: 22.5, color: '#4D4D4D', family: fontFam},
    showgrid: true, gridcolor: '#EBEBEB', gridwidth: 1.2,
    minor: {tickvals: [2013, 2015, 2017], showgrid: true, gridcolor: '#EBEBEB', gridwidth: 1, ticks: ''},
    showline: true, linecolor: '#333333', linewidth: 1.5,
    zeroline: false, fixedrange: true
  };
  layout['yaxis' + (ax === 1 ? '' : ax)] = {
    domain: [dBot, dTop], anchor: xa, range: [-0.9, 25.6],
    tickmode: 'array', tickvals: yTickVals,
    ticks: 'outside', ticklen: 6, tickwidth: 1.5, tickcolor: '#333333',
    tickfont: {size: 14, color: '#4D4D4D', family: fontFam},
    showgrid: false, showline: true, linecolor: '#333333', linewidth: 1.5,
    zeroline: false, fixedrange: true
  };

  // standard step line
  traces.push({x: stdT, y: stdV, xaxis: xa, yaxis: ya, type: 'scatter', mode: 'lines',
    line: {color: gold, width: 2.2, shape: 'hv'}, hoverinfo: 'skip'});
  // temperature
  const f = flatten(series[i]);
  traces.push({x: f.x, y: f.y, xaxis: xa, yaxis: ya, type: 'scatter', mode: 'lines',
    connectgaps: false, line: {color: teal, width: 3.4}, hoverinfo: 'skip'});
  if (i === exceedStation) {
    traces.push({x: exceedT, y: exceedV, xaxis: xa, yaxis: ya, type: 'scatter', mode: 'markers',
      marker: {color: '#E69F00', size: 5}, hoverinfo: 'skip'});
  }

  // strip background
  layout.shapes.push({type: 'rect', xref: 'paper', yref: 'paper', x0: 1, x1: 1.2, y0: dBot, y1: dTop,
    fillcolor: '#D9D9D9', line: {width: 0}, layer: 'below'});
  // top border (gray)
  layout.shapes.push({type: 'line', xref: 'paper', yref: 'paper', x0: 0, x1: 1.2, y0: dTop, y1: dTop,
    line: {color: '#8C8C8C', width: 1.3}});
  // bottom border under strip (dark)
  layout.shapes.push({type: 'line', xref: 'paper', yref: 'paper', x0: 1, x1: 1.2, y0: dBot, y1: dBot,
    line: {color: '#333333', width: 1.5}});
  // panel / strip separator
  layout.shapes.push({type: 'line', xref: 'paper', yref: 'paper', x0: 1, x1: 1, y0: dBot, y1: dTop,
    line: {color: '#333333', width: 1.6}});
  // strip label
  layout.annotations.push({xref: 'paper', yref: 'paper', x: (1632 - mL) / plotW, y: (dBot + dTop) / 2,
    text: name, showarrow: false, xanchor: 'center', yanchor: 'middle',
    font: {size: 22.5, color: '#1A1A1A', family: fontFam}});
});

layout.annotations.push({xref: 'paper', yref: 'paper', x: (24 - mL) / plotW, y: 0.5,
  text: 'Temperature, C', showarrow: false, textangle: -90, xanchor: 'center', yanchor: 'middle',
  font: {size: 29, color: '#000000', family: fontFam}});

Plotly.newPlot('chart', traces, layout, {displayModeBar: false, staticPlot: true});
</script>
</body>
</html>
